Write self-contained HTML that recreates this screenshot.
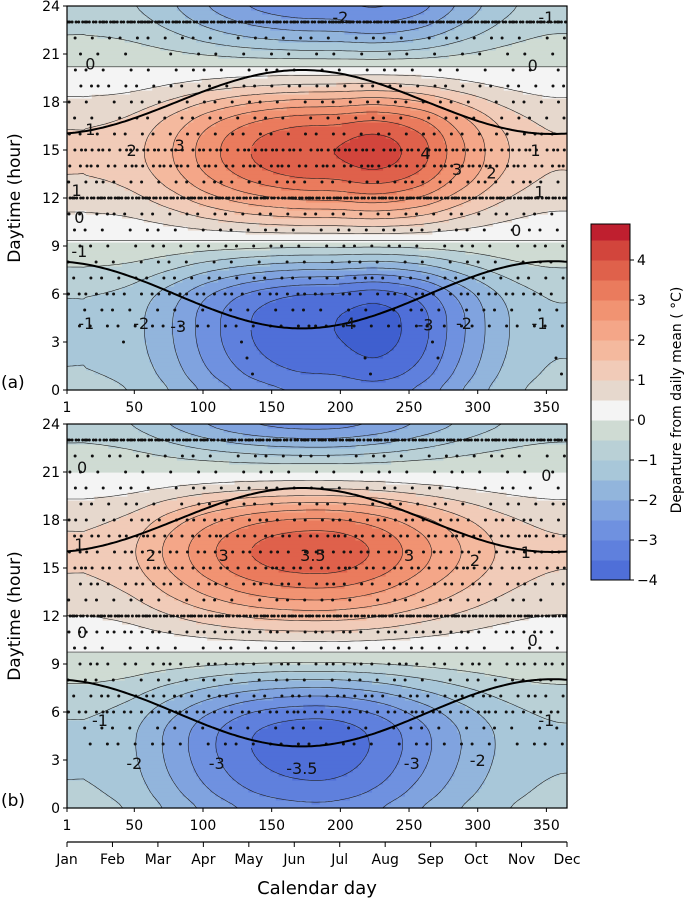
<!DOCTYPE html>
<html><head><meta charset="utf-8">
<style>
html,body{margin:0;padding:0;background:#fff;}
svg{display:block;font-family:"DejaVu Sans","Liberation Sans",sans-serif;}
</style></head>
<body>
<svg id="fig" width="685" height="901" viewBox="0 0 685 901" xmlns="http://www.w3.org/2000/svg">
  <g id="panelA"></g>
  <g id="panelB"></g>
  <g id="cbar"></g>
  <g id="axes"></g>
</svg>
<script>
// ---- data ----
const shapeHours = [0,1,2,3,4,5,6,7,8,9,10,11,12,13,14,15,16,17,18,19,20,21,22,23,24];
const shapeA = [-0.78,-0.88,-0.95,-0.99,-1,-0.98,-0.88,-0.65,-0.37,-0.1,0.18,0.43,0.66,0.85,0.97,1,0.95,0.8,0.55,0.28,0.05,-0.2,-0.42,-0.6,-0.72];
const shapeB = [-0.75,-0.85,-0.93,-0.98,-1,-0.97,-0.85,-0.65,-0.4,-0.15,0.05,0.25,0.45,0.65,0.82,0.95,1,0.95,0.8,0.55,0.25,0,-0.25,-0.5,-0.7];
const monthMidDays = [15,46,74,105,135,166,196,227,258,288,319,349];
const ampA = [1.1,1.3,1.9,2.8,3.5,3.9,4.0,4.2,3.7,2.6,1.6,1.1];
const ampB = [1.1,1.4,2.1,2.9,3.5,3.8,3.8,3.4,2.7,2.0,1.4,1.1];
const levels = [-4.5,-4,-3.5,-3,-2.5,-2,-1.5,-1,-0.5,0,0.5,1,1.5,2,2.5,3,3.5,4,4.5];
const bandColors = ["#3f5fcf","#4f6fd8","#5f80dd","#6f91e0","#80a3df","#92b5dc","#a8c7d9","#b9d0d6","#cfdbd3","#f4f4f4","#e6d8cd","#f1cbb8","#f4b99e","#f4a688","#f19372","#ea7b5d","#df614b","#d2453c","#bf1f2f"];
const xTicks = [1,50,100,150,200,250,300,350];
const yTicks = [0,3,6,9,12,15,18,21,24];
const months = ["Jan","Feb","Mar","Apr","May","Jun","Jul","Aug","Sep","Oct","Nov","Dec"];
const cbTicks = [4,3,2,1,0,-1,-2,-3,-4];
const dotRowsA = [[1,3],[2,4],[3,3],[4,35],[5,25],[6,50],[7,35],[8,25],[9,30],[10,30],[11,35],[12,160],[13,40],[14,70],[15,80],[16,35],[17,30],[18,30],[19,35],[20,25],[21,20],[22,30],[23,180]];
const dotRowsB = [[4,30],[5,25],[6,60],[7,45],[8,30],[9,45],[10,30],[11,50],[12,160],[13,30],[14,45],[15,60],[16,50],[17,60],[18,45],[19,30],[20,30],[21,25],[22,30],[23,170]];
const labelsA = [["-2",200,23.3],["-1",350,23.3],["0",18,20.4],["0",340,20.3],["1",18,16.3],["2",48,15],["3",83,15.3],["4",262,14.8],["3",285,13.8],["2",310,13.6],["1",342,15],["1",8,12.5],["1",345,12.4],["0",10,10.8],["0",328,10],["-1",10,8.7],["-1",15,4.2],["-2",55,4.2],["-3",82,4],["-4",205,4.2],["-3",262,4.1],["-2",290,4.2],["-1",345,4.2]];
const labelsB = [["0",12,21.3],["0",350,20.8],["1",10,16.5],["2",62,15.8],["3",115,15.8],["3.5",180,15.8],["3",250,15.8],["2",298,15.5],["1",335,16],["0",12,11],["0",340,10.5],["-1",25,5.5],["-2",50,2.8],["-3",110,2.8],["-3.5",172,2.5],["-3",252,2.8],["-2",300,3],["-1",350,5.5]];

// ---- geometry ----
const X0=67, X1=567;
const xOf = d => X0 + (d-1)*(X1-X0)/364;
const HPX = 16;
const NS="http://www.w3.org/2000/svg";
function mk(tag, attrs, parent){const e=document.createElementNS(NS,tag);for(const k in attrs)e.setAttribute(k,attrs[k]);parent.appendChild(e);return e;}
function cr(p0,p1,p2,p3,t){return 0.5*((2*p1)+(-p0+p2)*t+(2*p0-5*p1+4*p2-p3)*t*t+(-p0+3*p1-3*p2+p3)*t*t*t);}
function shapeAt(arr,h){let i=Math.floor(h);if(i>=24)i=23;if(i<0)i=0;const t=h-i;const g=k=>arr[Math.max(0,Math.min(24,k))];return cr(g(i-1),g(i),g(i+1),g(i+2),t);}
function ampAt(arr,d){
  const n=monthMidDays.length;
  let i=-1;for(let k=0;k<n;k++){if(monthMidDays[k]<=d)i=k;}
  let dPrev,dNext,ip;
  if(i<0){ip=n-1;dPrev=monthMidDays[n-1]-365;}else{ip=i;dPrev=monthMidDays[i];}
  const inx=(ip+1)%n;dNext=monthMidDays[inx]+(inx===0?365:0);
  const t=(d-dPrev)/(dNext-dPrev);
  const g=k=>arr[((k%n)+n)%n];
  return cr(g(ip-1),g(ip),g(ip+1),g(ip+2),t);
}
function bandOf(v){let k=Math.floor(v/0.5)+9;return Math.max(0,Math.min(18,k));}

function drawPanel(g, shape, amp, yBase, dotRows, labels, tag){
  const yOf = h => yBase - h*HPX;
  const field=(d,h)=>ampAt(amp,d)*shapeAt(shape,h);
  const fillG=mk('g',{},g);
  
  
  const dd=2, dh=0.25;
  for(let h=0;h<24;h+=dh){
    let runStart=1,runBand=null;
    for(let d=1;d<=367;d+=dd){
      const b = d<366 ? bandOf(field(Math.min(d+dd/2,365),h+dh/2)) : -1;
      if(runBand===null){runBand=b;runStart=d;continue;}
      if(b!==runBand){
        const r=mk('rect',{x:xOf(runStart).toFixed(2),y:yOf(h+dh).toFixed(2),width:(xOf(Math.min(d,365))-xOf(runStart)+0.6).toFixed(2),height:(dh*HPX+0.6).toFixed(2),fill:bandColors[runBand]},fillG);
        
        
        runBand=b;runStart=d;
      }
    }
  }
  const gd=[],gh=[];for(let d=1;d<=365;d+=2)gd.push(d);if(gd[gd.length-1]!==365)gd.push(365);
  for(let h=0;h<=24.001;h+=0.25)gh.push(h);
  const V=gh.map(h=>gd.map(d=>field(d,h)));
  let path='';
  for(const L of levels){
    for(let j=0;j<gh.length-1;j++)for(let i=0;i<gd.length-1;i++){
      const c=[[gd[i],gh[j],V[j][i]],[gd[i+1],gh[j],V[j][i+1]],[gd[i+1],gh[j+1],V[j+1][i+1]],[gd[i],gh[j+1],V[j+1][i]]];
      const pts=[];
      for(let e=0;e<4;e++){const a=c[e],b=c[(e+1)%4];
        if((a[2]-L)*(b[2]-L)<0){const t=(L-a[2])/(b[2]-a[2]);pts.push([a[0]+t*(b[0]-a[0]),a[1]+t*(b[1]-a[1])]);}}
      for(let p=0;p+1<pts.length;p+=2){
        path+='M'+xOf(pts[p][0]).toFixed(1)+' '+yOf(pts[p][1]).toFixed(1)+'L'+xOf(pts[p+1][0]).toFixed(1)+' '+yOf(pts[p+1][1]).toFixed(1);
      }
    }
  }
  const cl=mk('path',{d:path,stroke:'#222',fill:'none','stroke-width':0.6},g);
  
  
  const dg=mk('g',{fill:'#111'},g);
  
  
  for(const [hr,n] of dotRows){
    for(let i=0;i<n;i++){
      const f=((i*0.618034+hr*0.371)%1);
      const d=1+f*364;
      const c=mk('circle',{cx:xOf(d).toFixed(1),cy:yOf(hr),r:1.5},dg);
      
      
    }
  }
  let sr='',ss='';
  for(let d=1;d<=365;d+=2){
    const c=Math.cos(2*Math.PI*(d-172)/365);
    sr+=(d===1?'M':'L')+xOf(d).toFixed(1)+' '+yOf(5.95-2.1*c).toFixed(1);
    ss+=(d===1?'M':'L')+xOf(d).toFixed(1)+' '+yOf(18+2*c).toFixed(1);
  }
  const p1=mk('path',{d:sr,stroke:'#000','stroke-width':2,fill:'none'},g);
  
  
  const p2=mk('path',{d:ss,stroke:'#000','stroke-width':2,fill:'none'},g);
  
  
  for(const [t,d,h] of labels){
    const tx=mk('text',{x:xOf(d),y:yOf(h)+6,'font-size':16,'text-anchor':'middle',fill:'#111'},g);
    tx.textContent=t;
    
    
  }
  const fr=mk('rect',{x:X0,y:yOf(24),width:X1-X0,height:24*HPX,fill:'none',stroke:'#000','stroke-width':1.2},g);
  
  
  for(const t of yTicks){
    mk('line',{x1:X0-4,x2:X0,y1:yOf(t),y2:yOf(t),stroke:'#000'},g);
    const tx=mk('text',{x:X0-7,y:yOf(t)+5,'font-size':14,'text-anchor':'end'},g);
    tx.textContent=t;
    
    
  }
  for(const t of xTicks){
    mk('line',{x1:xOf(t),x2:xOf(t),y1:yBase,y2:yBase+4,stroke:'#000'},g);
    const tx=mk('text',{x:xOf(t),y:yBase+22,'font-size':14,'text-anchor':'middle'},g);
    tx.textContent=t;
    
    
  }
  const yt=mk('text',{x:0,y:0,'font-size':17,'text-anchor':'middle',transform:`translate(20 ${yBase-12*HPX}) rotate(-90)`},g);
  yt.textContent='Daytime (hour)';
  
  
  const pl=mk('text',{x:1,y:yBase-2,'font-size':17},g);
  pl.textContent='('+tag.slice(-1)+')';
  
  
}
drawPanel(document.getElementById('panelA'),shapeA,ampA,390,dotRowsA,labelsA,'panel-a');
drawPanel(document.getElementById('panelB'),shapeB,ampB,808,dotRowsB,labelsB,'panel-b');

const ax=document.getElementById('axes');
mk('line',{x1:X0,x2:X1,y1:842,y2:842,stroke:'#000','stroke-width':1.2},ax);
months.forEach((m,i)=>{
  const x=X0+i*(X1-X0)/11;
  mk('line',{x1:x,x2:x,y1:842,y2:847,stroke:'#000'},ax);
  const t=mk('text',{x:x,y:864,'font-size':14,'text-anchor':'middle'},ax);
  t.textContent=m;
  
  
});
const xt=mk('text',{x:317,y:894,'font-size':18,'text-anchor':'middle'},ax);
xt.textContent='Calendar day';



const cb=document.getElementById('cbar');
const CB0=420, CBU=40, CBX=591, CBW=39;
const cbY=v=>CB0-v*CBU;
levels.forEach((L,i)=>{
  const lo=L, hi=L+0.5;
  const top=Math.max(cbY(Math.min(hi,4.9)),224);
  const bot=Math.min(cbY(lo),580);
  if(bot<=top)return;
  const r=mk('rect',{x:CBX,y:top,width:CBW,height:bot-top+0.5,fill:bandColors[i]},cb);
  
  
});
mk('rect',{x:CBX,y:224,width:CBW,height:356,fill:'none',stroke:'#000','stroke-width':1},cb);
cbTicks.forEach(v=>{
  mk('line',{x1:CBX+CBW,x2:CBX+CBW+4,y1:cbY(v),y2:cbY(v),stroke:'#000'},cb);
  const t=mk('text',{x:CBX+CBW+7,y:cbY(v)+5,'font-size':14},cb);
  t.textContent=v<0?'\u2212'+(-v):String(v);
  
  
});
const ct=mk('text',{x:0,y:0,'font-size':14,'text-anchor':'middle',transform:'translate(681 400) rotate(-90)'},cb);
ct.textContent='Departure from daily mean ( \u00B0C)';


</script>
</body></html>
